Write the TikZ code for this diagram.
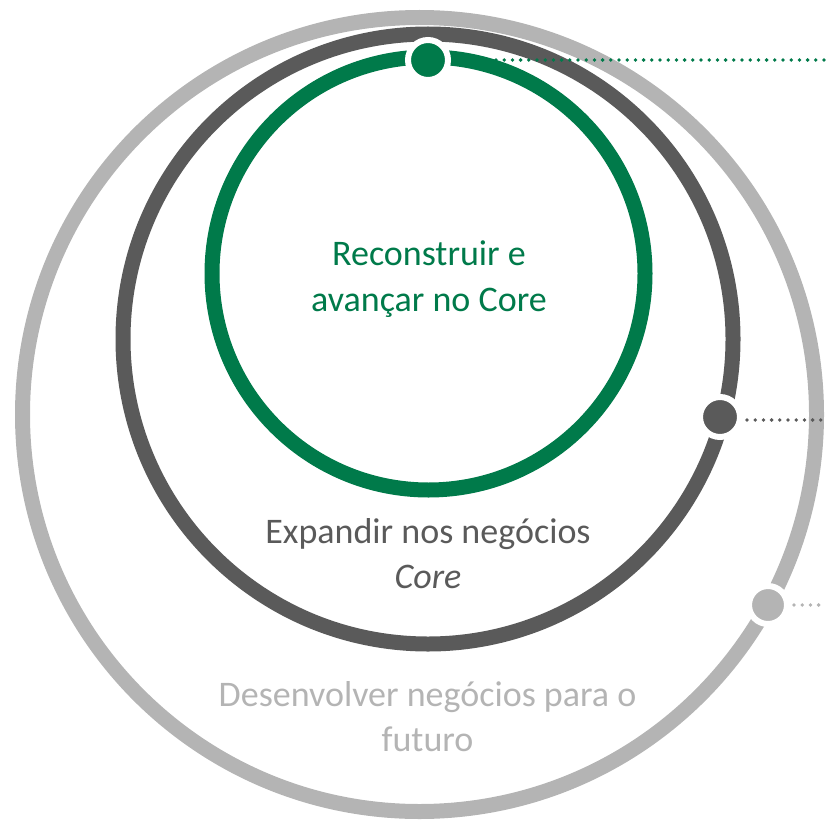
\documentclass[tikz,border=0pt]{standalone}
\usepackage{fontspec}
\setmainfont{Carlito}
\definecolor{cgreen}{RGB}{0,122,74}
\definecolor{cdark}{RGB}{90,90,90}
\definecolor{clight}{RGB}{180,180,180}
\begin{document}
\begin{tikzpicture}[x=1pt,y=-1pt,
  ring/.style={line width=15pt},
  marker/.style={circle,draw=white,line width=6pt,inner sep=0pt,minimum size=40pt},
  leader/.style={line width=3.8pt,line cap=round,dash pattern=on 0pt off 8.2pt},
  lbl/.style={anchor=base,font=\fontsize{36}{44}\selectfont,inner sep=0pt}]
\useasboundingbox (0,0) rectangle (826,821);
% rings
\draw[ring,clight] (419.5,414.5) circle[radius=397];
\draw[ring,cdark] (428,339) circle[radius=305];
\draw[ring,cgreen] (428.5,273.5) circle[radius=216.5];
% markers
\node[marker,fill=cgreen] (mg) at (428,60) {};
\node[marker,fill=cdark] (md) at (720,417) {};
\node[marker,fill=clight,minimum size=38pt] (ml) at (768,605) {};
% leader end points
\coordinate (eg) at (826,60);
\coordinate (ed) at (826,420);
\coordinate (el) at (826,605);
\draw[leader,cgreen] ([xshift=4pt]mg.east) -- (eg);
\draw[leader,cdark] ([xshift=4pt]md.east |- ed) -- (ed);
\draw[leader,clight] ([xshift=4pt]ml.east) -- (el);
% labels
\node[lbl,text=cgreen] (t1) at (429,265) {Reconstruir e};
\node[lbl,text=cgreen] (t2) at (429,311.7) {avançar no Core};
\node[lbl,text=cdark] (t3) at (428,543.3) {Expandir nos negócios};
\node[lbl,text=cdark] (t4) at (428,588.3) {\itshape Core};
\node[lbl,text=clight] (t5) at (427.5,706.7) {Desenvolver negócios para o};
\node[lbl,text=clight] (t6) at (427.5,751.7) {futuro};
\end{tikzpicture}
\end{document}
